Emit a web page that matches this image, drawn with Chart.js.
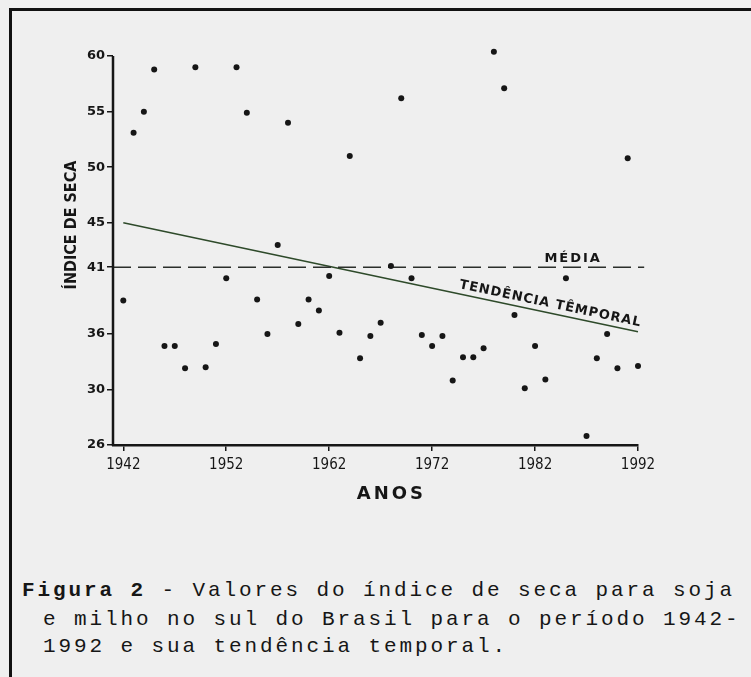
<!DOCTYPE html>
<html>
<head>
<meta charset="utf-8">
<script src="https://cdn.jsdelivr.net/npm/chart.js@4.4.0/dist/chart.umd.min.js"></script>
<style>
    html, body { margin: 0; padding: 0; }
    body { width: 751px; height: 677px; background: #efefef; position: relative; overflow: hidden; }
    #frame { position: absolute; left: 9px; top: 8px; width: 800px; height: 720px; border-top: 3px solid #111; border-left: 3px solid #111; }
    #chart { position: absolute; left: 0; top: 0; }
    .caption { position: absolute; font-family: "Liberation Mono", monospace; font-size: 21px; letter-spacing: 2.9px; color: #161616; white-space: pre; line-height: 24px; }
</style>
</head>
<body>
<div id="frame"></div>
<canvas id="chart" width="751" height="560"></canvas>
<div class="caption" style="left:22px; top:579px;"><b>Figura 2</b> - Valores do índice de seca para soja</div>
<div class="caption" style="left:43px; top:608px;">e milho no sul do Brasil para o período 1942-</div>
<div class="caption" style="left:43px; top:635px;">1992 e sua tendência temporal.</div>

<script>
// dados (índice de seca por ano)
const years = [1942, 1943, 1944, 1945, 1946, 1947, 1948, 1949, 1950, 1951,
               1952, 1953, 1954, 1955, 1956, 1957, 1958, 1959, 1960, 1961,
               1962, 1963, 1964, 1965, 1966, 1967, 1968, 1969, 1970, 1971,
               1972, 1973, 1974, 1975, 1976, 1977, 1978, 1979, 1980, 1981,
               1982, 1983, 1985, 1987, 1988, 1989, 1990, 1991, 1992];
const droughtIndex = [38.0, 53.1, 55.0, 58.8, 33.9, 33.9, 31.9, 59.0, 32.0, 34.1,
                      40.0, 59.0, 54.9, 38.1, 35.0, 43.0, 54.0, 35.9, 38.1, 37.1,
                      40.2, 35.1, 51.0, 32.8, 34.8, 36.0, 41.1, 56.2, 40.0, 34.9,
                      33.9, 34.8, 30.8, 32.9, 32.9, 33.7, 60.4, 57.1, 36.7, 30.1,
                      33.9, 30.9, 40.0, 25.8, 32.8, 35.0, 31.9, 50.8, 32.1];

// tendência temporal e média
const trendYears = [1942, 1992];
const trendValues = [45.0, 35.2];
const meanYears = [1941, 1992.6];
const meanValues = [41, 41];

// eixos
const xTicks = [1942, 1952, 1962, 1972, 1982, 1992];
const yTicks = [25, 30, 35, 41, 45, 50, 55, 60];
const yTickLabels = ['26', '30', '36', '41', '45', '50', '55', '60'];

const INK = '#161616';

// linha do eixo Y só até o último tick (o ponto de 1978 passa um pouco do 60)
const yAxisLine = {
    id: 'yAxisLine',
    afterDraw(chart) {
        const { ctx, chartArea } = chart;
        const y = chart.scales.y;
        ctx.save();
        ctx.strokeStyle = INK;
        ctx.lineWidth = 2.5;
        ctx.beginPath();
        ctx.moveTo(chartArea.left, y.getPixelForValue(yTicks[0]) + 1);
        ctx.lineTo(chartArea.left, y.getPixelForValue(yTicks[yTicks.length - 1]));
        ctx.stroke();
        ctx.restore();
    }
};

// textos da figura: títulos dos eixos e rótulos das linhas
const figureText = {
    id: 'figureText',
    afterDatasetsDraw(chart) {
        const { ctx, chartArea } = chart;
        const x = chart.scales.x, y = chart.scales.y;
        ctx.save();
        ctx.fillStyle = INK;
        ctx.textAlign = 'center';
        ctx.textBaseline = 'middle';

        // título eixo Y
        ctx.save();
        ctx.font = 'bold 16px "DejaVu Sans Condensed"';
        ctx.translate(chartArea.left - 41, y.getPixelForValue(44.8));
        ctx.rotate(-Math.PI / 2);
        ctx.fillText('ÍNDICE DE SECA', 0, 0);
        ctx.restore();

        // título eixo X
        ctx.save();
        ctx.font = 'bold 18px "DejaVu Sans"';
        ctx.letterSpacing = '3px';
        ctx.fillText('ANOS', x.getPixelForValue(1967.9) + 1.5, chartArea.bottom + 49);
        ctx.restore();

        // MÉDIA
        ctx.save();
        ctx.font = 'bold 13px "DejaVu Sans"';
        ctx.letterSpacing = '2px';
        ctx.textBaseline = 'bottom';
        ctx.fillText('MÉDIA', x.getPixelForValue(1985.7), y.getPixelForValue(meanValues[0]) - 2);
        ctx.restore();

        // TENDÊNCIA TEMPORAL, ao longo da linha
        const x0 = x.getPixelForValue(trendYears[0]), y0 = y.getPixelForValue(trendValues[0]);
        const x1 = x.getPixelForValue(trendYears[1]), y1 = y.getPixelForValue(trendValues[1]);
        const ang = Math.atan2(y1 - y0, x1 - x0);
        const tYear = 1983.3;
        const tVal = trendValues[0] + (trendValues[1] - trendValues[0]) * (tYear - trendYears[0]) / (trendYears[1] - trendYears[0]);
        ctx.save();
        ctx.font = 'bold 13px "DejaVu Sans"';
        ctx.letterSpacing = '1px';
        ctx.translate(x.getPixelForValue(tYear), y.getPixelForValue(tVal));
        ctx.rotate(ang);
        ctx.fillText('TENDÊNCIA TÊMPORAL', 0, -9);
        ctx.restore();

        ctx.restore();
    }
};

const ctx = document.getElementById('chart').getContext('2d');
new Chart(ctx, {
    type: 'scatter',
    data: {
        datasets: [
            {
                label: 'Índice de seca',
                data: years.map((yr, i) => ({ x: yr, y: droughtIndex[i] })),
                pointRadius: 3,
                pointBackgroundColor: INK,
                pointBorderWidth: 0,
                clip: false
            },
            {
                label: 'Média',
                data: meanYears.map((yr, i) => ({ x: yr, y: meanValues[i] })),
                showLine: true,
                pointRadius: 0,
                borderColor: '#2b2f2b',
                borderWidth: 1.6,
                borderDash: [18, 7],
                clip: false
            },
            {
                label: 'Tendência temporal',
                data: trendYears.map((yr, i) => ({ x: yr, y: trendValues[i] })),
                showLine: true,
                pointRadius: 0,
                borderColor: '#2e4a2a',
                borderWidth: 1.5,
                clip: false
            }
        ]
    },
    options: {
        responsive: false,
        animation: false,
        layout: { padding: { left: 60, top: 45, right: 113, bottom: 55 } },
        plugins: {
            legend: { display: false },
            tooltip: { enabled: false }
        },
        scales: {
            x: {
                type: 'linear',
                min: 1941,
                max: 1992,
                afterBuildTicks: (scale) => { scale.ticks = xTicks.map(v => ({ value: v })); },
                afterFit: (scale) => { scale.height = 60; },
                grid: { drawOnChartArea: false, tickLength: 6, color: INK, lineWidth: 1.5 },
                border: { display: true, color: INK, width: 2.5 },
                ticks: {
                    color: INK,
                    padding: 5,
                    maxRotation: 0,
                    font: { family: '"DejaVu Sans Condensed"', size: 15 },
                    callback: (v) => String(v)
                }
            },
            y: {
                type: 'linear',
                min: 25,
                max: 61,
                afterBuildTicks: (scale) => { scale.ticks = yTicks.map(v => ({ value: v })); },
                afterFit: (scale) => { scale.width = 53; },
                grid: { drawOnChartArea: false, tickLength: 6, color: INK, lineWidth: 1.5 },
                border: { display: false },
                ticks: {
                    color: INK,
                    padding: 2,
                    font: { family: '"DejaVu Sans"', size: 13, weight: 'bold' },
                    callback: (v) => yTickLabels[yTicks.indexOf(v)]
                }
            }
        }
    },
    plugins: [yAxisLine, figureText]
});
</script>
</body>
</html>
